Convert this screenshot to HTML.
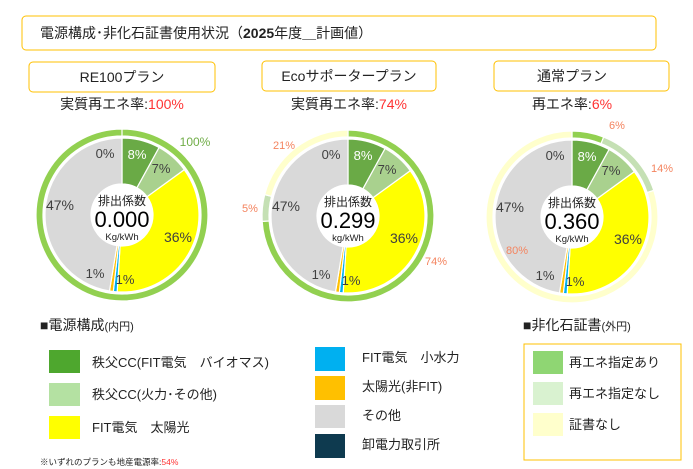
<!DOCTYPE html>
<html><head><meta charset="utf-8"><style>
body{margin:0;background:#fff;}
svg{display:block;font-family:"Liberation Sans","Noto Sans CJK JP",sans-serif;}
</style></head><body>
<svg id="s" width="693" height="469" viewBox="0 0 693 469" xmlns="http://www.w3.org/2000/svg">
<rect x="22" y="16" width="634" height="34" rx="4" fill="#fff" stroke="#ffc000" stroke-width="1"/>
<text x="40" y="38" font-size="14" fill="#222">電源構成･非化石証書使用状況（<tspan font-weight="bold">2025</tspan>年度＿計画値）</text>
<rect x="29" y="62" width="186" height="30" rx="4" fill="#fff" stroke="#ffc000"/>
<text x="122" y="82" font-size="14" text-anchor="middle" fill="#222">RE100プラン</text>
<rect x="262" y="61" width="174" height="30" rx="4" fill="#fff" stroke="#ffc000"/>
<text x="349" y="81" font-size="14" text-anchor="middle" fill="#222">Ecoサポータープラン</text>
<rect x="494" y="61" width="175" height="30" rx="4" fill="#fff" stroke="#ffc000"/>
<text x="572" y="81" font-size="14" text-anchor="middle" fill="#222">通常プラン</text>
<text x="122" y="109" font-size="14" text-anchor="middle" fill="#222">実質再エネ率:<tspan fill="#ff3333">100%</tspan></text>
<text x="349" y="109" font-size="14" text-anchor="middle" fill="#222">実質再エネ率:<tspan fill="#ff3333">74%</tspan></text>
<text x="572" y="109" font-size="14" text-anchor="middle" fill="#222">再エネ率:<tspan fill="#ff3333">6%</tspan></text>
<g id="charts"></g>
<g font-size="13" fill="#222">
<text x="40" y="330" font-size="14">■電源構成<tspan font-size="11">(内円)</tspan></text>
<rect x="49" y="350" width="31" height="23" fill="#4ea72e"/><text x="92" y="367">秩父CC(FIT電気　バイオマス)</text>
<rect x="49" y="383" width="31" height="23" fill="#b4e1a2"/><text x="92" y="399">秩父CC(火力･その他)</text>
<rect x="49" y="416" width="31" height="23" fill="#ffff00"/><text x="92" y="432">FIT電気　太陽光</text>
<rect x="315" y="347" width="30" height="24" fill="#00b0f0"/><text x="362" y="362">FIT電気　小水力</text>
<rect x="315" y="376" width="30" height="24" fill="#ffc000"/><text x="362" y="391">太陽光(非FIT)</text>
<rect x="315" y="405" width="30" height="23" fill="#d9d9d9"/><text x="362" y="420">その他</text>
<rect x="315" y="434" width="30" height="24" fill="#0e3a4f"/><text x="362" y="449">卸電力取引所</text>
<text x="40" y="465" font-size="8.5">※いずれのプランも地産電源率:<tspan fill="#ff3333">54%</tspan></text>
<text x="523" y="330" font-size="14">■非化石証書<tspan font-size="11">(外円)</tspan></text>
<rect x="524" y="344" width="157" height="116" fill="#fff" stroke="#ffc000"/>
<rect x="533" y="351" width="30" height="23" fill="#8fd673"/><text x="569" y="367">再エネ指定あり</text>
<rect x="533" y="382" width="30" height="23" fill="#d9f2d0"/><text x="569" y="398">再エネ指定なし</text>
<rect x="533" y="413" width="30" height="23" fill="#ffffcc"/><text x="569" y="429">証書なし</text>
</g>
</svg>
<script>
const NS="http://www.w3.org/2000/svg";const g=document.getElementById("charts");
function arc(cx,cy,r0,r1,a0,a1,fill){const p=x=>x*2*Math.PI;let s=p(a0),e=p(a1);if(a1-a0>=0.9999)e-=0.0001;
const P=(r,a)=>[cx+r*Math.sin(a),cy-r*Math.cos(a)];const L=(e-s)>Math.PI?1:0;
const [x1,y1]=P(r1,s),[x2,y2]=P(r1,e),[x3,y3]=P(r0,e),[x4,y4]=P(r0,s);
const el=document.createElementNS(NS,"path");el.setAttribute("d",`M${x1},${y1}A${r1},${r1} 0 ${L} 1 ${x2},${y2}L${x3},${y3}A${r0},${r0} 0 ${L} 0 ${x4},${y4}Z`);
el.setAttribute("fill",fill);el.setAttribute("stroke","#fff");el.setAttribute("stroke-width","1.2");g.appendChild(el);}
function txt(x,y,t,size,fill,anchor){const el=document.createElementNS(NS,"text");el.setAttribute("x",x);el.setAttribute("y",y);el.setAttribute("font-size",size);el.setAttribute("fill",fill);el.setAttribute("text-anchor",anchor||"middle");el.textContent=t;g.appendChild(el);}
const inner=[[0.08,"#6aaa46"],[0.07,"#a9d18e"],[0.36,"#ffff00"],[0.008,"#00b0f0"],[0.008,"#ffc000"],[0.474,"#d9d9d9"]];
function donut(cx,cy,outer,val,unit){let a=0;for(const [v,c] of inner){arc(cx,cy,31,77,a,a+v,c);a+=v;}
a=0;for(const [v,c] of outer){arc(cx,cy,79,86,a,a+v,c);a+=v;}
txt(cx-17,cy-57,"0%",13,"#404040");txt(cx+15,cy-56,"8%",13,"#fff");txt(cx+39,cy-42,"7%",13,"#404040");
txt(cx+56,cy+27,"36%",14,"#404040");txt(cx+3,cy+69,"1%",13,"#404040");txt(cx-27,cy+63,"1%",13,"#404040");txt(cx-62,cy-5,"47%",14,"#404040");
txt(cx,cy-10,"排出係数",12,"#222");txt(cx,cy+12,val,22,"#000");txt(cx,cy+25,unit,9.5,"#222");}
donut(122,215,[[1,"#92d050"]],"0.000","Kg/kWh");
txt(195,146,"100%",12,"#70ad47");
donut(348,216,[[0.74,"#92d050"],[0.05,"#c5e0b4"],[0.21,"#ffffcc"]],"0.299","kg/kWh");
txt(284,149,"21%",11,"#f4845f");txt(250,212,"5%",11,"#f4845f");txt(436,265,"74%",11,"#f4845f");
donut(572,217,[[0.06,"#92d050"],[0.14,"#c5e0b4"],[0.8,"#ffffcc"]],"0.360","Kg/kWh");
txt(617,129,"6%",11,"#f4845f");txt(662,172,"14%",11,"#f4845f");txt(517,254,"80%",11,"#f4845f");
</script>
</body></html>
